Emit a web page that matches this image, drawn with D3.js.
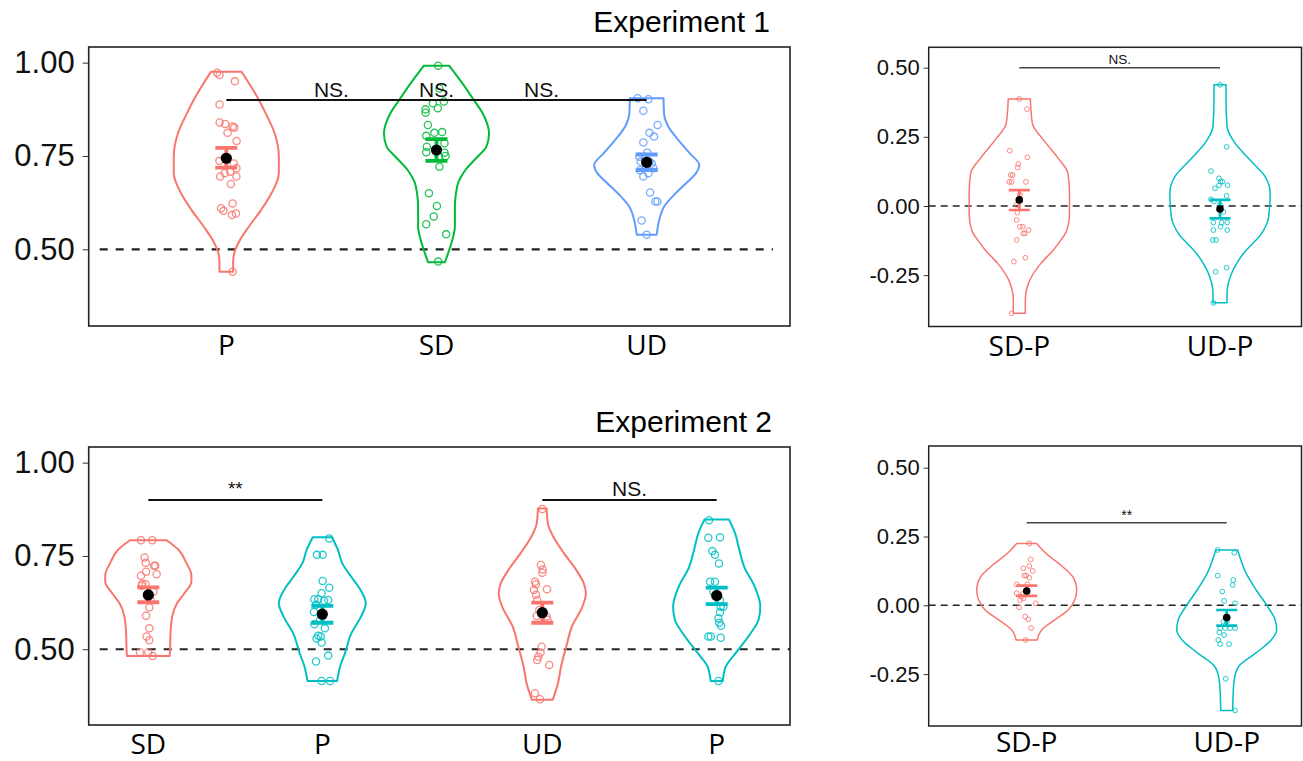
<!DOCTYPE html>
<html>
<head>
<meta charset="utf-8">
<script src="https://cdn.jsdelivr.net/npm/d3@7"></script>
<style>
  body { margin: 0; background: #fff; }
  svg { display: block; }
</style>
</head>
<body>
<svg id="chart" width="1303" height="761"></svg>
<script>
// ---------- data ----------
// points: [jitter (in category units), value]
// profile: [value, relative violin width]

// Experiment 1
var exp1Labels = ["P", "SD", "UD"];
var exp1PointsP = [[-0.044,0.973],[-0.032,0.967],[0.041,0.950],[-0.032,0.888],[-0.032,0.840],[-0.005,0.836],[0.030,0.829],[0.038,0.826],[0.006,0.812],[0.049,0.790],[-0.033,0.737],[0.035,0.730],[0.048,0.717],[0.019,0.708],[-0.008,0.704],[-0.029,0.695],[0.048,0.695],[0.022,0.675],[0.030,0.623],[-0.025,0.610],[-0.013,0.603],[0.046,0.596],[0.027,0.592],[0.030,0.440]];
var exp1PointsSD = [[0.008,0.992],[0.014,0.931],[-0.017,0.891],[0.006,0.878],[0.035,0.896],[-0.052,0.875],[-0.052,0.866],[-0.041,0.833],[-0.049,0.804],[-0.010,0.812],[0.027,0.814],[-0.046,0.775],[0.038,0.784],[-0.049,0.760],[0.038,0.759],[0.011,0.748],[0.043,0.750],[0.014,0.721],[-0.036,0.650],[0.002,0.616],[-0.013,0.588],[-0.049,0.567],[0.046,0.540],[0.008,0.467]];
var exp1PointsUD = [[-0.043,0.905],[0.008,0.902],[-0.016,0.871],[0.052,0.833],[0.013,0.812],[0.035,0.802],[-0.016,0.786],[0.003,0.759],[-0.035,0.748],[-0.008,0.748],[-0.029,0.735],[0.013,0.735],[0.024,0.730],[-0.003,0.721],[0.032,0.717],[-0.032,0.712],[0.008,0.704],[-0.016,0.695],[0.016,0.652],[0.041,0.628],[0.051,0.628],[-0.024,0.577],[0.000,0.539]];
var exp1ProfileP = [[0.976,0.29],[0.936,0.47],[0.90,0.62],[0.864,0.75],[0.811,0.92],[0.748,1.0],[0.704,1.0],[0.65,0.86],[0.605,0.66],[0.561,0.43],[0.525,0.26],[0.489,0.15],[0.465,0.13],[0.44,0.13]];
var exp1ProfileSD = [[0.992,0.24],[0.945,0.49],[0.90,0.71],[0.864,0.88],[0.81,1.0],[0.775,0.95],[0.748,0.78],[0.7125,0.55],[0.681,0.42],[0.65,0.37],[0.614,0.35],[0.561,0.35],[0.525,0.30],[0.489,0.22],[0.465,0.16]];
var exp1ProfileUD = [[0.905,0.32],[0.864,0.33],[0.829,0.41],[0.793,0.60],[0.757,0.82],[0.726,1.0],[0.704,0.94],[0.681,0.78],[0.65,0.55],[0.614,0.33],[0.579,0.24],[0.539,0.19]];
var exp1Mean = [0.744, 0.766, 0.733];
var exp1Lo = [0.719, 0.737, 0.7125];
var exp1Hi = [0.772, 0.795, 0.754];

// Experiment 1, differences
var diff1Labels = ["SD-P", "UD-P"];
var diff1PointsSD = [[0.000,0.387],[0.038,0.350],[-0.048,0.200],[0.040,0.176],[-0.005,0.152],[-0.008,0.139],[-0.043,0.112],[-0.033,0.112],[-0.050,0.087],[-0.038,0.087],[0.033,0.087],[0.003,0.040],[-0.013,0.004],[-0.010,-0.024],[-0.013,-0.051],[0.003,-0.075],[0.017,-0.075],[0.046,-0.087],[0.020,-0.099],[0.028,-0.099],[-0.013,-0.123],[0.030,-0.187],[-0.027,-0.201],[-0.038,-0.388]];
var diff1PointsUD = [[0.000,0.438],[0.033,0.214],[-0.045,0.126],[-0.005,0.100],[0.003,0.088],[0.012,0.088],[-0.005,0.075],[-0.025,0.064],[0.038,0.075],[0.033,0.037],[-0.045,0.024],[-0.030,0.016],[0.000,0.004],[0.017,-0.021],[-0.033,-0.060],[0.008,-0.060],[0.036,-0.060],[0.003,-0.075],[-0.033,-0.087],[0.036,-0.087],[-0.036,-0.123],[-0.020,-0.123],[0.033,-0.223],[-0.022,-0.238],[-0.033,-0.350]];
var diff1ProfileSD = [[0.387,0.22],[0.299,0.26],[0.239,0.48],[0.1785,0.75],[0.118,0.97],[0.046,1.0],[-0.027,1.0],[-0.087,0.95],[-0.135,0.78],[-0.159,0.68],[-0.2075,0.43],[-0.268,0.21],[-0.340,0.12],[-0.388,0.12]];
var diff1ProfileUD = [[0.438,0.12],[0.384,0.12],[0.287,0.14],[0.227,0.30],[0.166,0.60],[0.106,0.90],[0.046,1.0],[-0.039,0.97],[-0.099,0.83],[-0.171,0.47],[-0.244,0.23],[-0.316,0.14],[-0.350,0.14]];
var diff1Mean = [0.022, -0.011];
var diff1Lo = [-0.0145, -0.0446];
var diff1Hi = [0.057, 0.022];

// Experiment 2
var exp2Labels = ["SD", "P", "UD", "P"];
var exp2PointsSD = [[-0.042,0.792],[0.023,0.792],[-0.021,0.746],[-0.015,0.732],[0.033,0.724],[0.040,0.724],[-0.013,0.708],[0.048,0.701],[-0.042,0.697],[-0.034,0.675],[-0.015,0.674],[-0.038,0.670],[0.029,0.654],[0.013,0.632],[0.006,0.612],[-0.013,0.590],[0.006,0.556],[-0.010,0.534],[0.006,0.524],[-0.048,0.492],[0.000,0.492],[0.025,0.482]];
var exp2PointsP1 = [[0.040,0.797],[-0.031,0.753],[0.002,0.753],[0.002,0.683],[0.040,0.665],[-0.004,0.650],[-0.046,0.634],[-0.023,0.634],[0.034,0.632],[0.010,0.630],[-0.036,0.619],[-0.048,0.600],[-0.013,0.579],[-0.046,0.567],[0.015,0.556],[-0.023,0.536],[-0.008,0.534],[-0.033,0.529],[-0.004,0.518],[0.034,0.483],[-0.036,0.467],[-0.004,0.415],[0.044,0.415]];
var exp2PointsUD = [[0.000,0.876],[-0.008,0.726],[0.002,0.714],[0.000,0.705],[-0.042,0.681],[-0.036,0.674],[-0.048,0.659],[0.027,0.661],[-0.036,0.646],[-0.029,0.632],[-0.017,0.605],[-0.032,0.589],[0.025,0.588],[0.030,0.579],[-0.004,0.507],[-0.010,0.491],[-0.023,0.480],[-0.029,0.471],[0.040,0.458],[-0.042,0.382],[-0.013,0.366]];
var exp2PointsP2 = [[-0.044,0.846],[-0.048,0.799],[0.019,0.800],[-0.025,0.763],[-0.010,0.753],[0.013,0.730],[-0.038,0.681],[-0.010,0.681],[-0.019,0.654],[0.019,0.632],[0.023,0.614],[0.038,0.614],[0.019,0.599],[0.010,0.583],[0.015,0.571],[0.025,0.563],[-0.048,0.534],[-0.034,0.534],[0.023,0.531],[0.010,0.415]];
var exp2ProfileSD = [[0.792,0.42],[0.766,0.70],[0.730,0.88],[0.699,0.99],[0.681,0.99],[0.65,0.83],[0.623,0.66],[0.5875,0.55],[0.543,0.51],[0.5,0.50],[0.482,0.49]];
var exp2ProfileP1 = [[0.800,0.22],[0.766,0.36],[0.730,0.46],[0.695,0.66],[0.659,0.88],[0.623,1.0],[0.5875,0.89],[0.543,0.67],[0.489,0.52],[0.454,0.41],[0.415,0.34]];
var exp2ProfileUD = [[0.877,0.10],[0.836,0.13],[0.802,0.25],[0.757,0.50],[0.712,0.78],[0.677,0.95],[0.650,1.0],[0.614,0.92],[0.561,0.68],[0.507,0.55],[0.454,0.43],[0.409,0.36],[0.365,0.24]];
var exp2ProfileP2 = [[0.848,0.28],[0.811,0.42],[0.766,0.52],[0.721,0.63],[0.668,0.87],[0.614,1.0],[0.579,0.96],[0.543,0.78],[0.489,0.43],[0.454,0.21],[0.415,0.14]];
var exp2Mean = [0.6455, 0.594, 0.598, 0.644];
var exp2Lo = [0.626, 0.571, 0.571, 0.621];
var exp2Hi = [0.666, 0.616, 0.625, 0.665];

// Experiment 2, differences
var diff2Labels = ["SD-P", "UD-P"];
var diff2PointsSD = [[0.013,0.225],[0.020,0.167],[-0.017,0.134],[0.013,0.143],[0.030,0.125],[-0.012,0.108],[-0.003,0.108],[0.013,0.100],[-0.050,0.076],[0.003,0.076],[-0.050,0.044],[-0.020,0.041],[-0.025,0.031],[-0.017,0.025],[-0.033,0.019],[0.045,0.007],[-0.038,-0.007],[-0.008,-0.041],[0.008,-0.051],[0.022,-0.083],[-0.005,-0.126]];
var diff2PointsUD = [[-0.045,0.201],[0.038,0.191],[-0.045,0.108],[0.033,0.092],[0.030,0.074],[-0.022,0.050],[-0.013,0.016],[0.042,0.007],[-0.017,-0.059],[0.000,-0.059],[-0.033,-0.083],[-0.008,-0.083],[0.017,-0.083],[0.042,-0.083],[-0.037,-0.099],[-0.013,-0.108],[-0.042,-0.126],[-0.033,-0.141],[0.012,-0.141],[-0.005,-0.267],[0.042,-0.382]];
var diff2ProfileSD = [[0.225,0.20],[0.188,0.39],[0.140,0.72],[0.104,0.92],[0.0556,1.0],[0.019,0.96],[-0.017,0.83],[-0.053,0.56],[-0.0895,0.30],[-0.126,0.21]];
var diff2ProfileUD = [[0.201,0.22],[0.116,0.39],[0.0556,0.59],[-0.005,0.82],[-0.053,0.97],[-0.0895,1.0],[-0.126,0.89],[-0.174,0.58],[-0.2225,0.24],[-0.271,0.15],[-0.319,0.13],[-0.382,0.12]];
var diff2Mean = [0.052, -0.0447];
var diff2Lo = [0.034, -0.074];
var diff2Hi = [0.0713, -0.017];

var accTicks = [0.5, 0.75, 1.0];
var diffTicks = [-0.25, 0, 0.25, 0.5];

// ---------- styles ----------
var RED = "#F8766D", GREEN = "#00BA38", BLUE = "#619CFF", CYAN = "#00BFC4";

var bigStyle = { tickFont: 31, tickSize: 6, tickPad: 8, xFont: 28, pointR: 3.6, pointW: 1.3,
  meanR: 5.6, capHalf: 11, ebW: 3.8, violinW: 2, dash: "8,8", dashW: 2.2, dashInset: 11,
  sigW: 2, sigColor: "#111", sigFont: 21, starFont: 19, starLift: 5, frameW: 1.6 };
var smallStyle = { tickFont: 22, tickSize: 5, tickPad: 4, xFont: 28, pointR: 2.4, pointW: 1,
  meanR: 3.8, capHalf: 10.5, ebW: 2.7, violinW: 1.5, dash: "7,5", dashW: 1.6, dashInset: 0,
  sigW: 1.4, sigColor: "#444", sigFont: 13.5, starFont: 14, starLift: 3, frameW: 1.5 };

function grp(label, color, points, profile, mean, lo, hi) {
  return { label: label, color: color, points: points, profile: profile, mean: mean, lo: lo, hi: hi };
}

var panels = [
  { frame: [88.7, 47, 790, 326], yDomain: [0.2945, 1.042], ticks: accTicks, ref: 0.5, refEnd: 773,
    style: bigStyle, labelY: 355,
    subs: [{ range: [226.3, 646.7], groups: [
        grp(exp1Labels[0], RED, exp1PointsP, exp1ProfileP, exp1Mean[0], exp1Lo[0], exp1Hi[0]),
        grp(exp1Labels[1], GREEN, exp1PointsSD, exp1ProfileSD, exp1Mean[1], exp1Lo[1], exp1Hi[1]),
        grp(exp1Labels[2], BLUE, exp1PointsUD, exp1ProfileUD, exp1Mean[2], exp1Lo[2], exp1Hi[2])],
      sig: { from: 1, to: 3, y: 0.9, labels: [[1.5, "NS."], [2, "NS."], [2.5, "NS."]] } }] },
  { frame: [928.7, 47.3, 1301.5, 326.5], yDomain: [-0.4357, 0.5737], ticks: diffTicks, ref: 0, refEnd: 1301.5,
    style: smallStyle, labelY: 356,
    subs: [{ range: [1019.3, 1220], groups: [
        grp(diff1Labels[0], RED, diff1PointsSD, diff1ProfileSD, diff1Mean[0], diff1Lo[0], diff1Hi[0]),
        grp(diff1Labels[1], CYAN, diff1PointsUD, diff1ProfileUD, diff1Mean[1], diff1Lo[1], diff1Hi[1])],
      sig: { from: 1, to: 2, y: 0.5, labels: [[1.5, "NS."]] } }] },
  { frame: [88.7, 447, 790, 725], yDomain: [0.297, 1.042], ticks: accTicks, ref: 0.5, refEnd: 790,
    style: bigStyle, labelY: 754,
    subs: [
      { range: [148.3, 322.3], groups: [
        grp(exp2Labels[0], RED, exp2PointsSD, exp2ProfileSD, exp2Mean[0], exp2Lo[0], exp2Hi[0]),
        grp(exp2Labels[1], CYAN, exp2PointsP1, exp2ProfileP1, exp2Mean[1], exp2Lo[1], exp2Hi[1])],
        sig: { from: 1, to: 2, y: 0.9, labels: [[1.5, "**"]] } },
      { range: [542.3, 716.7], groups: [
        grp(exp2Labels[2], RED, exp2PointsUD, exp2ProfileUD, exp2Mean[2], exp2Lo[2], exp2Hi[2]),
        grp(exp2Labels[3], CYAN, exp2PointsP2, exp2ProfileP2, exp2Mean[3], exp2Lo[3], exp2Hi[3])],
        sig: { from: 1, to: 2, y: 0.9, labels: [[1.5, "NS."]] } }] },
  { frame: [928.7, 446, 1301.5, 726], yDomain: [-0.4386, 0.5789], ticks: diffTicks, ref: 0, refEnd: 1301.5,
    style: smallStyle, labelY: 752,
    subs: [{ range: [1026.7, 1226.7], groups: [
        grp(diff2Labels[0], RED, diff2PointsSD, diff2ProfileSD, diff2Mean[0], diff2Lo[0], diff2Hi[0]),
        grp(diff2Labels[1], CYAN, diff2PointsUD, diff2ProfileUD, diff2Mean[1], diff2Lo[1], diff2Hi[1])],
      sig: { from: 1, to: 2, y: 0.30, labels: [[1.5, "**"]] } }] }
];

var titles = [
  { text: "Experiment 1", x: 770, y: 32 },
  { text: "Experiment 2", x: 772, y: 432 }
];

// ---------- drawing ----------
var svg = d3.select("#chart");
var SANS = "'Liberation Sans', Arial, Helvetica, sans-serif";
var LABEL = "'Open Sans', 'Noto Sans', sans-serif";

panels.forEach(function(p) {
  var s = p.style;
  var f = p.frame;
  var g = svg.append("g");

  var y = d3.scaleLinear().domain(p.yDomain).range([f[3], f[1]]);

  // frame
  g.append("rect")
    .attr("x", f[0]).attr("y", f[1])
    .attr("width", f[2] - f[0]).attr("height", f[3] - f[1])
    .attr("fill", "none").attr("stroke", "#222").attr("stroke-width", s.frameW);

  // y axis
  var ax = g.append("g")
    .attr("transform", "translate(" + f[0] + ",0)")
    .call(d3.axisLeft(y).tickValues(p.ticks)
      .tickFormat(function(d) { return d.toFixed(2); })
      .tickSize(s.tickSize).tickPadding(s.tickPad));
  ax.select(".domain").remove();
  ax.selectAll("line").attr("stroke", "#333");
  ax.selectAll("text")
    .attr("fill", "#111")
    .style("font-family", SANS)
    .style("font-size", s.tickFont + "px");

  // chance / zero reference line
  g.append("line")
    .attr("x1", f[0] + s.dashInset).attr("x2", p.refEnd)
    .attr("y1", y(p.ref)).attr("y2", y(p.ref))
    .attr("stroke", "#222").attr("stroke-width", s.dashW)
    .attr("stroke-dasharray", s.dash);

  p.subs.forEach(function(sub) {
    var n = sub.groups.length;
    var x = d3.scaleLinear().domain([1, n]).range(sub.range);
    var step = x(2) - x(1);
    var w = d3.scaleLinear().domain([0, 1]).range([0, 0.25 * step]);

    sub.groups.forEach(function(gr, i) {
      var cx = x(i + 1);

      var area = d3.area()
        .y(function(d) { return y(d[0]); })
        .x0(function(d) { return cx - w(d[1]); })
        .x1(function(d) { return cx + w(d[1]); })
        .curve(d3.curveMonotoneY);

      var prof = gr.profile.slice().sort(function(a, b) { return b[0] - a[0]; });
      g.append("path")
        .attr("d", area(prof))
        .attr("fill", "none")
        .attr("stroke", gr.color)
        .attr("stroke-width", s.violinW)
        .attr("stroke-linejoin", "round");

      g.append("g").selectAll("circle")
        .data(gr.points)
        .join("circle")
        .attr("cx", function(d) { return x(i + 1 + d[0]); })
        .attr("cy", function(d) { return y(d[1]); })
        .attr("r", s.pointR)
        .attr("fill", "none")
        .attr("stroke", gr.color)
        .attr("stroke-opacity", 0.85)
        .attr("stroke-width", s.pointW);

      // error bar
      var eb = d3.path();
      eb.moveTo(cx - s.capHalf, y(gr.hi)); eb.lineTo(cx + s.capHalf, y(gr.hi));
      eb.moveTo(cx, y(gr.hi)); eb.lineTo(cx, y(gr.lo));
      eb.moveTo(cx - s.capHalf, y(gr.lo)); eb.lineTo(cx + s.capHalf, y(gr.lo));
      g.append("path")
        .attr("d", eb.toString())
        .attr("fill", "none")
        .attr("stroke", gr.color)
        .attr("stroke-width", s.ebW);

      g.append("circle")
        .attr("cx", cx).attr("cy", y(gr.mean))
        .attr("r", s.meanR)
        .attr("fill", "#000");

      g.append("text")
        .attr("x", cx).attr("y", p.labelY)
        .attr("text-anchor", "middle")
        .style("font-family", LABEL)
        .style("font-size", s.xFont + "px")
        .attr("fill", "#000")
        .text(gr.label);
    });

    // significance bracket
    var sg = sub.sig;
    g.append("line")
      .attr("x1", x(sg.from)).attr("x2", x(sg.to))
      .attr("y1", y(sg.y)).attr("y2", y(sg.y))
      .attr("stroke", s.sigColor).attr("stroke-width", s.sigW);
    sg.labels.forEach(function(l) {
      var star = l[1] === "**";
      g.append("text")
        .attr("x", x(l[0]))
        .attr("y", y(sg.y) - (star ? s.starLift : 3.5))
        .attr("text-anchor", "middle")
        .style("font-family", SANS)
        .style("font-size", (star ? s.starFont : s.sigFont) + "px")
        .attr("fill", "#111")
        .text(l[1]);
    });
  });
});

svg.selectAll(".title")
  .data(titles)
  .join("text")
  .attr("class", "title")
  .attr("x", function(d) { return d.x; })
  .attr("y", function(d) { return d.y; })
  .attr("text-anchor", "end")
  .style("font-family", SANS)
  .style("font-size", "30px")
  .attr("fill", "#000")
  .text(function(d) { return d.text; });
</script>
</body>
</html>
